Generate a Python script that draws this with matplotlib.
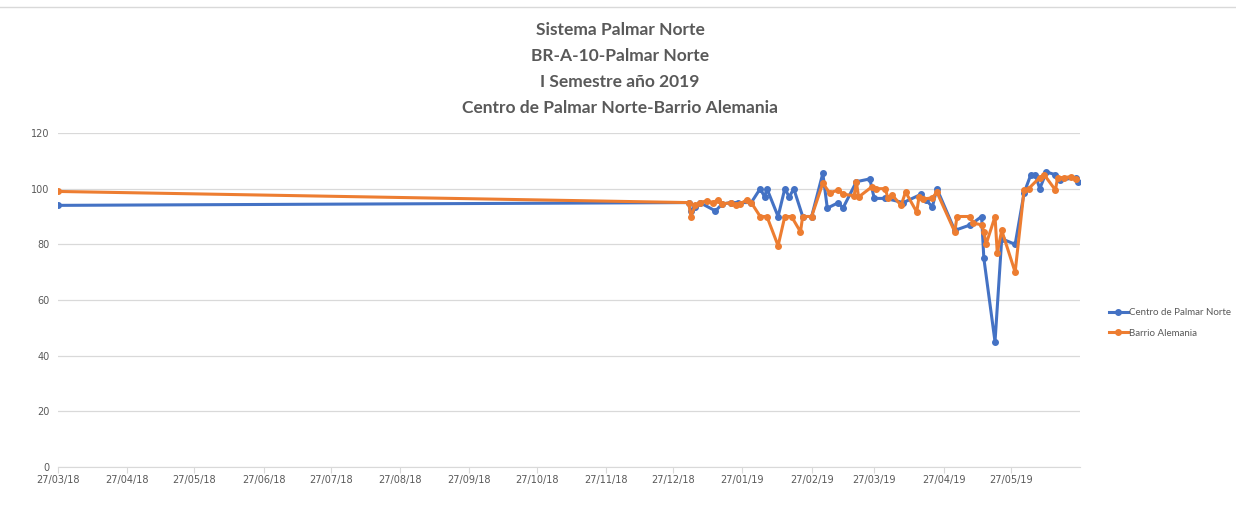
import matplotlib
matplotlib.use("Agg")
import matplotlib.pyplot as plt
import matplotlib.dates as mdates
import pandas as pd
from matplotlib.lines import Line2D

# Centro de Palmar Norte (blue)
centro_dates = [
    "2018-03-27", "2019-01-03", "2019-01-04", "2019-01-06", "2019-01-08", "2019-01-15",
    "2019-01-18", "2019-01-22", "2019-01-25", "2019-01-31", "2019-02-04", "2019-02-06",
    "2019-02-07", "2019-02-12", "2019-02-15", "2019-02-17", "2019-02-19", "2019-02-23",
    "2019-02-27", "2019-03-04", "2019-03-06", "2019-03-11", "2019-03-13", "2019-03-19",
    "2019-03-25", "2019-03-27", "2019-04-01", "2019-04-09", "2019-04-17", "2019-04-19",
    "2019-04-22", "2019-04-24", "2019-05-02", "2019-05-09", "2019-05-14", "2019-05-15",
    "2019-05-20", "2019-05-23", "2019-05-29", "2019-06-02", "2019-06-05", "2019-06-07",
    "2019-06-09", "2019-06-12", "2019-06-16", "2019-06-18", "2019-06-25", "2019-06-26",
]
centro_vals = [
    94, 95, 92, 93.5, 95, 92,
    94.5, 95, 95, 95, 100, 97,
    100, 90, 100, 97, 100, 90,
    90, 105.5, 93, 95, 93, 102.5,
    103.5, 96.5, 96.5, 95, 98, 96,
    93.5, 100, 85, 87, 90, 75,
    45, 82, 80, 98.5, 105, 105,
    100, 106, 105, 103, 104, 102.5,
]

# Barrio Alemania (orange)
alemania_dates = [
    "2018-03-27", "2019-01-03", "2019-01-04", "2019-01-06", "2019-01-08", "2019-01-11",
    "2019-01-14", "2019-01-16", "2019-01-18", "2019-01-22", "2019-01-24", "2019-01-26",
    "2019-01-29", "2019-01-31", "2019-02-04", "2019-02-07", "2019-02-12", "2019-02-15",
    "2019-02-18", "2019-02-22", "2019-02-23", "2019-02-27", "2019-03-04", "2019-03-07",
    "2019-03-11", "2019-03-13", "2019-03-18", "2019-03-19", "2019-03-20", "2019-03-26",
    "2019-03-28", "2019-04-01", "2019-04-02", "2019-04-04", "2019-04-08", "2019-04-10",
    "2019-04-15", "2019-04-16", "2019-04-18", "2019-04-22", "2019-04-24", "2019-05-02",
    "2019-05-03", "2019-05-09", "2019-05-10", "2019-05-14", "2019-05-15", "2019-05-16",
    "2019-05-20", "2019-05-21", "2019-05-23", "2019-05-29", "2019-06-02", "2019-06-04",
    "2019-06-09", "2019-06-11", "2019-06-16", "2019-06-17", "2019-06-20", "2019-06-23",
    "2019-06-25",
]
alemania_vals = [
    99, 95, 90, 94, 95, 95.6,
    95, 96, 94.5, 95, 94, 94.5,
    96, 95, 90, 90, 79.5, 90,
    90, 84.5, 90, 90, 102, 98.5,
    99.5, 98, 97.5, 102.4, 97, 100.7,
    100, 100, 96.7, 97.7, 94, 98.8,
    91.6, 97, 96.3, 96.7, 98.8, 84.5,
    90, 90, 87.7, 87, 84.5, 80,
    90, 77, 85, 70, 99.5, 100,
    104, 105, 99.5, 104, 104, 104.3,
    103.5,
]

x_ticks = ["2018-03-27", "2018-04-27", "2018-05-27", "2018-06-27", "2018-07-27",
           "2018-08-27", "2018-09-27", "2018-10-27", "2018-11-27", "2018-12-27",
           "2019-01-27", "2019-02-27", "2019-03-27", "2019-04-27", "2019-05-27"]

title_lines = ["Sistema Palmar Norte", "BR-A-10-Palmar Norte",
               "I Semestre año 2019", "Centro de Palmar Norte-Barrio Alemania"]

blue = "#4472C4"
orange = "#ED7D31"
gray = "#595959"

fig = plt.figure(figsize=(12.36, 5.15), dpi=100)
ax = fig.add_axes([58 / 1236, 1 - 467 / 515, (1080 - 58) / 1236, (467 - 133) / 515])

ax.plot(pd.to_datetime(centro_dates), centro_vals, color=blue, lw=2.2,
        marker="o", markersize=4, label="Centro de Palmar Norte")
ax.plot(pd.to_datetime(alemania_dates), alemania_vals, color=orange, lw=2.2,
        marker="o", markersize=4, label="Barrio Alemania")

ax.set_ylim(0, 120)
ax.set_yticks(range(0, 121, 20))
ax.set_xlim(pd.Timestamp("2018-03-27"), pd.Timestamp("2019-06-27"))
ax.set_xticks(pd.to_datetime(x_ticks))
ax.xaxis.set_major_formatter(mdates.DateFormatter("%d/%m/%y"))

ax.grid(axis="y", color="#d9d9d9", lw=0.9)
ax.set_axisbelow(True)
for s in ["top", "right", "left"]:
    ax.spines[s].set_visible(False)
ax.spines["bottom"].set_color("#d9d9d9")
ax.tick_params(axis="y", length=0, labelsize=7, labelcolor=gray, pad=6)
ax.tick_params(axis="x", length=4, color="#d9d9d9", labelsize=7, labelcolor=gray, pad=2)

for i, line in enumerate(title_lines):
    fig.text(620 / 1236, 1 - (30 + i * 26) / 515, line, ha="center", va="center",
             fontsize=12.5, fontweight="bold", color=gray, family="Lato")

handles = [Line2D([], [], color=blue, lw=2.2, marker="o", markersize=4),
           Line2D([], [], color=orange, lw=2.2, marker="o", markersize=4)]
fig.legend(handles, ["Centro de Palmar Norte", "Barrio Alemania"],
           loc="center left", bbox_to_anchor=(1100 / 1236, 1 - 323 / 515),
           frameon=False, handlelength=2.0, handletextpad=0.1,
           labelcolor=gray, labelspacing=1.2,
           prop={"family": "Lato", "size": 7})

fig.add_artist(Line2D([0, 1], [1 - 7 / 515, 1 - 7 / 515], color="#d9d9d9", lw=1))

fig.savefig("out.png", dpi=100)
